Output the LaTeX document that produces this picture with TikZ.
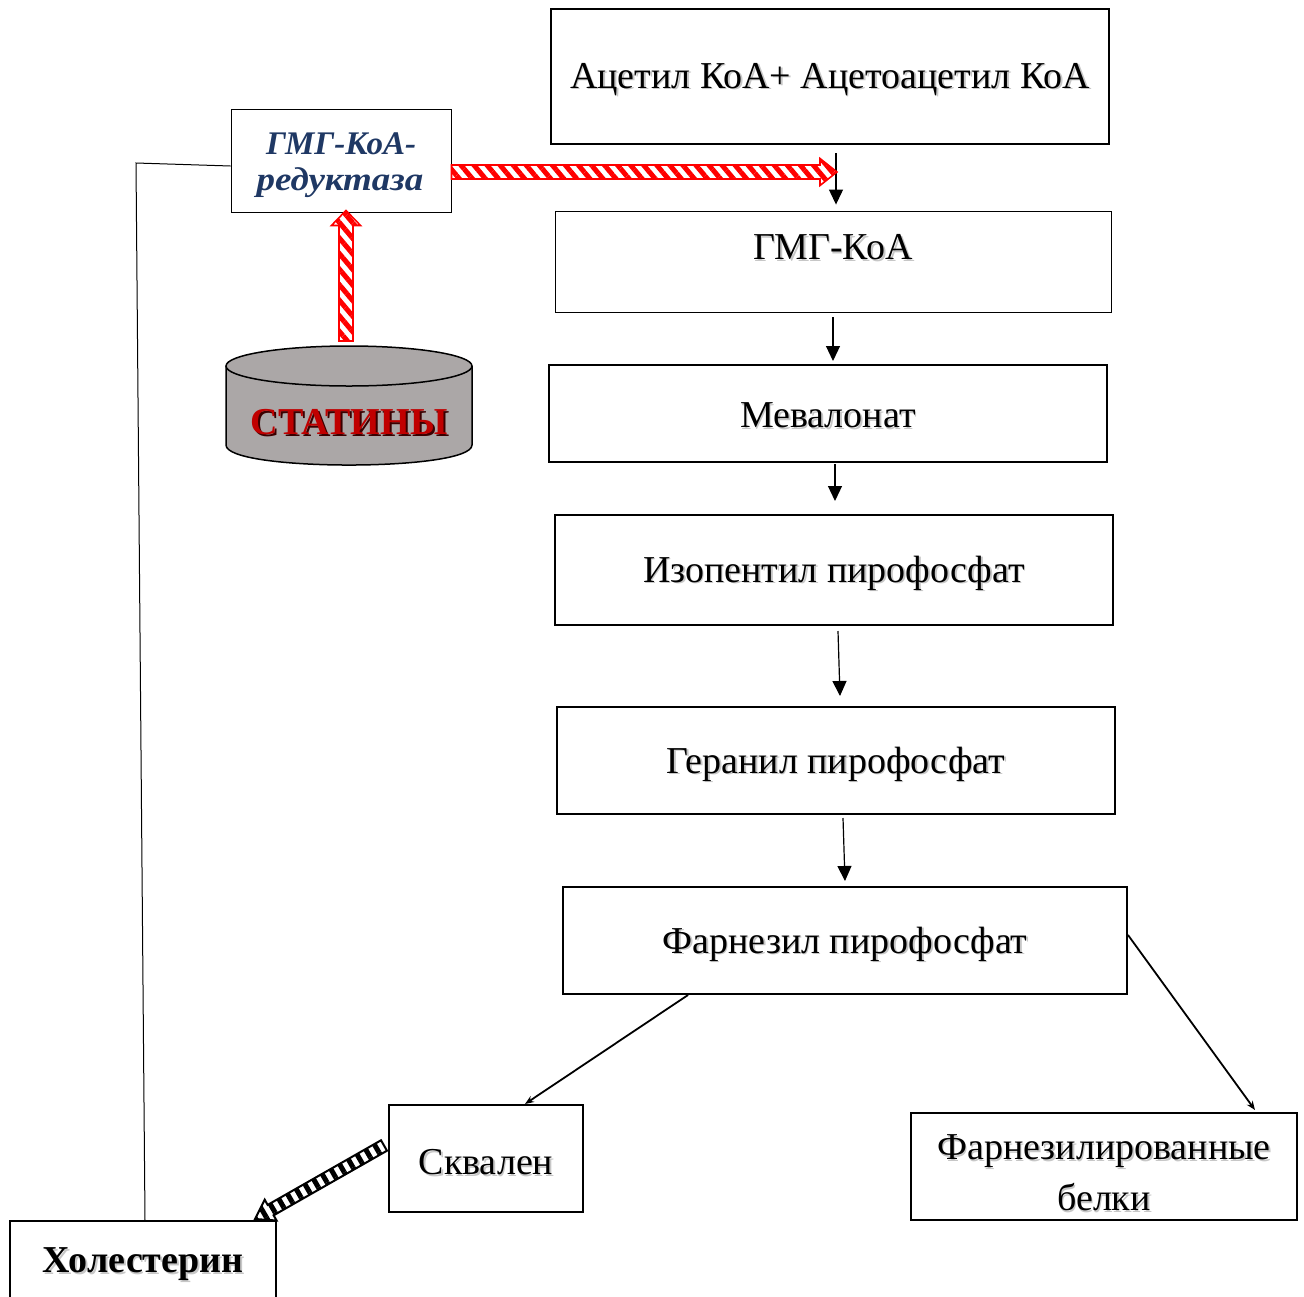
\documentclass[tikz,border=0pt]{standalone}
\usepackage{fontspec}
\setmainfont{Liberation Serif}
\usetikzlibrary{calc,arrows.meta,patterns.meta}
\definecolor{navy}{HTML}{1F3864}
\definecolor{statred}{HTML}{C00000}
\definecolor{statgray}{HTML}{ABA7A7}
\newcommand\shd[1]{\makebox[0pt][l]{\raisebox{-1.6pt}{\hspace{1.6pt}\textcolor{black!22}{#1}}}#1}
\newcommand\fatarrow[6]{%
 \coordinate (fa-a) at (#2); \coordinate (fa-b) at (#3);
 \coordinate (fa-c) at ($(fa-b)!#6!(fa-a)$);
 \filldraw[#1] ($(fa-a)!#4!90:(fa-b)$) -- ($(fa-c)!#4!-90:(fa-a)$) -- ($(fa-c)!#5!-90:(fa-a)$) -- (fa-b) -- ($(fa-c)!#5!90:(fa-a)$) -- ($(fa-c)!#4!90:(fa-a)$) -- ($(fa-a)!#4!-90:(fa-b)$) -- cycle;}
\tikzset{
 box/.style={draw, line width=2pt, inner sep=0pt},
 thinbox/.style={draw, line width=0.9pt, inner sep=0pt},
 lbl/.style={font=\fontsize{38}{44}\selectfont, inner sep=0pt, align=center},
 rlbl/.style={font=\fontsize{33}{38}\selectfont\bfseries\itshape, text=navy, inner sep=0pt},
 arr/.style={line width=1.2pt, -{Triangle[width=14pt,length=15pt]}},
 darr/.style={line width=1.8pt, -{Stealth[width=7pt,length=9pt]}},
 redarrow/.style={draw=red, line width=1.6pt, pattern={Lines[angle=-50,distance=10pt,line width=5pt]}, pattern color=red},
 blkarrow/.style={draw=black, line width=2pt, pattern={Lines[angle=120,distance=10pt,line width=5pt]}, pattern color=black},
}
\begin{document}
\begin{tikzpicture}[x=1pt,y=-1pt]
\useasboundingbox (0,0) rectangle (1304,1296);
% boxes
\node[box, minimum width=558pt, minimum height=135pt] (acet) at (830,76.5) {};
\node[lbl] (acetT) at (830,80) {\shd{Ацетил КоА+ Ацетоацетил КоА}};
\node[thinbox, minimum width=556pt, minimum height=101pt] (hmg) at (833,261.5) {};
\node[lbl] (hmgT) at (833,248) {\shd{ГМГ-КоА}};
\node[box, minimum width=558pt, minimum height=97pt] (mev) at (828,413.5) {};
\node[lbl] (mevT) at (828,416) {\shd{Мевалонат}};
\node[box, minimum width=558pt, minimum height=110pt] (iso) at (834,570) {};
\node[lbl] (isoT) at (834,574) {\shd{Изопентил пирофосфат}};
\node[box, minimum width=558pt, minimum height=107pt] (ger) at (836,760.5) {};
\node[lbl] (gerT) at (836,765) {\shd{Геранил пирофосфат}};
\node[box, minimum width=564pt, minimum height=107pt] (far) at (845,940.5) {};
\node[lbl] (farT) at (845,945) {\shd{Фарнезил пирофосфат}};
\node[box, minimum width=194pt, minimum height=107pt] (skv) at (486,1158.5) {};
\node[lbl] (skvT) at (486,1163) {\shd{Сквален}};
\node[box, minimum width=386pt, minimum height=107pt] (bel) at (1104,1166.5) {};
\node[lbl] (belT1) at (1104,1152) {\shd{Фарнезилированные}};
\node[lbl] (belT2) at (1104,1198) {\shd{белки}};
\node[box, minimum width=266pt, minimum height=90pt] (chol) at (143,1266) {};
\node[lbl, font=\fontsize{38}{44}\selectfont\bfseries] (cholT) at (143,1265) {\shd{Холестерин}};
\node[thinbox, minimum width=220pt, minimum height=103pt] (red) at (341,160.5) {};
\node[rlbl] (redT1) at (341,144) {ГМГ-КоА-};
\node[rlbl] (redT2) at (340,183) {\scalebox{1.12}[1]{редуктаза}};
% statins cylinder
\fill[statgray] (226,366) -- (226,445) .. controls (226,471.7) and (472,471.7) .. (472,445) -- (472,366) -- cycle;
\draw[line width=1.5pt] (226,366) -- (226,445) .. controls (226,471.7) and (472,471.7) .. (472,445) -- (472,366);
\draw[line width=1.5pt, fill=statgray] (349,366) ellipse [x radius=123, y radius=20];
\node[lbl, font=\fontsize{38}{44}\selectfont\bfseries, text=black!70!statred] at (351,424) {СТАТИНЫ};
\node[lbl, font=\fontsize{38}{44}\selectfont\bfseries, text=statred] (stat) at (349,422) {СТАТИНЫ};
\coordinate (statTop) at (346,341);
% main arrows
\draw[arr] ([xshift=6pt,yshift=-8pt]acet.south) -- ([xshift=3pt,yshift=6pt]hmg.north);
\draw[arr] ([yshift=-5pt]hmg.south) -- ([xshift=5pt,yshift=3pt]mev.north);
\draw[arr] ([xshift=7pt,yshift=-1pt]mev.south) -- ([xshift=1pt,yshift=13pt]iso.north);
\draw[arr] ([xshift=4pt,yshift=-5pt]iso.south) -- ([xshift=4pt,yshift=10pt]ger.north);
\draw[arr] ([xshift=7pt,yshift=-3pt]ger.south) -- ([yshift=5pt]far.north);
\draw[darr] ([xshift=-157pt]far.south) -- ([xshift=39pt]skv.north);
\draw[darr] ([yshift=5.5pt]far.east) -- ([xshift=151pt,yshift=2pt]bel.north);
% feedback line
\coordinate (fbCorner) at (136,163);
\draw[line width=1pt] ([xshift=2pt]chol.north) -- (fbCorner) -- ([yshift=-5.5pt]red.west);
% fat arrows
\coordinate (redTip) at (837,172);
\fatarrow{redarrow}{[yshift=-11.5pt]red.east}{redTip}{7pt}{13.5pt}{17pt}
\fatarrow{redarrow}{statTop}{[xshift=5pt,yshift=2pt]red.south}{7pt}{14.5pt}{15pt}
\fatarrow{blkarrow}{[xshift=-4pt,yshift=13pt]skv.west}{[xshift=112pt,yshift=1pt]chol.north}{6pt}{12pt}{18pt}
\end{tikzpicture}
\end{document}
